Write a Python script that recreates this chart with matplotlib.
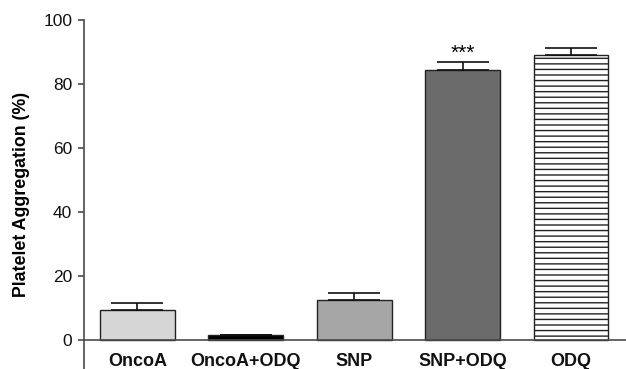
import numpy as np
import matplotlib
matplotlib.use("Agg")
import matplotlib.pyplot as plt

plt.rcParams["font.family"] = ["Liberation Sans", "DejaVu Sans"]
plt.rcParams["hatch.linewidth"] = 1.0

groups = ["OncoA", "OncoA+ODQ", "SNP", "SNP+ODQ", "ODQ"]
means = [9.4, 1.5, 12.7, 84.4, 89.1]
sem = [2.3, 0.2, 1.9, 2.6, 2.1]
colors = ["#d6d6d6", "#000000", "#a6a6a6", "#6b6b6b", "#ffffff"]
hatches = [None, None, None, None, "---"]
signif = ["", "", "", "***", ""]

fig = plt.figure(figsize=(6.26, 3.69), dpi=100)
ax = fig.add_axes([84 / 626, 0.0, 542 / 626, 1 - 20 / 369])

x = np.arange(len(groups))
axis_col = "#4a4a4a"

bars = ax.bar(x, means, width=0.69, color=colors, edgecolor="#222222",
              linewidth=1.0, zorder=2)
for b, h in zip(bars, hatches):
    if h:
        b.set_hatch(h)

ax.errorbar(x, means, yerr=[np.zeros(len(sem)), sem], fmt="none",
            ecolor="#111111", elinewidth=1.2, capsize=19, capthick=1.2, zorder=3)

for xi, m, s, txt in zip(x, means, sem, signif):
    if txt:
        ax.text(xi, m + s + 1.0, txt, ha="center", va="baseline", fontsize=15)

# axis line at zero, spines styled before tick labels (set_position resets them)
for side in ["top", "right"]:
    ax.spines[side].set_visible(False)
ax.spines["bottom"].set_position(("data", 0))
ax.spines["bottom"].set_color(axis_col)
ax.spines["left"].set_color(axis_col)
ax.spines["bottom"].set_linewidth(1.2)
ax.spines["left"].set_linewidth(1.2)

ax.set_xlim(-0.493, 4.507)
ax.set_ylim(-9, 100)
ax.set_yticks([0, 20, 40, 60, 80, 100])
ax.set_xticks(x)
ax.set_xticklabels(groups)

ax.tick_params(axis="y", length=4.5, width=1.2, color=axis_col, pad=4,
               labelsize=12.5, labelcolor="#111111")
ax.tick_params(axis="x", length=0, pad=9, labelsize=13, labelcolor="#111111")
for lab in ax.get_xticklabels():
    lab.set_fontweight("bold")

ax.set_ylabel("Platelet Aggregation (%)", fontsize=12.8, fontweight="bold")
ax.yaxis.set_label_coords(-0.10, 0.5)

fig.savefig("out.png", dpi=100)
